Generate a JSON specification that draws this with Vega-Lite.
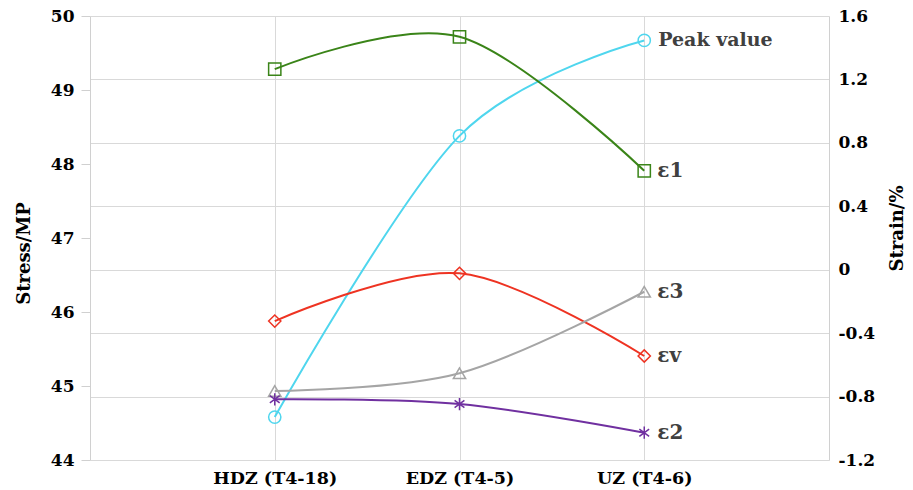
{
  "$schema": "https://vega.github.io/schema/vega-lite/v6.json",
  "width": 739,
  "height": 444,
  "autosize": {"type": "none"},
  "padding": {"left": 90, "top": 16, "right": 84, "bottom": 30},
  "background": "white",
  "config": {
    "view": {"stroke": null},
    "axis": {
      "labelFont": "DejaVu Serif", "labelFontWeight": "bold", "labelFontSize": 17, "labelColor": "black",
      "titleFont": "DejaVu Serif", "titleFontWeight": "bold", "titleFontSize": 18, "titleColor": "black",
      "gridColor": "#d9d9d9", "domainColor": "#d0d0d0", "tickColor": "#d0d0d0", "gridWidth": 1
    }
  },
  "data": {
    "values": [
      {"zone": "HDZ (T4-18)", "series": "Peak value", "value": 44.58},
      {"zone": "EDZ (T4-5)", "series": "Peak value", "value": 48.38},
      {"zone": "UZ (T4-6)", "series": "Peak value", "value": 49.67},
      {"zone": "HDZ (T4-18)", "series": "ε1", "value": 1.265},
      {"zone": "EDZ (T4-5)", "series": "ε1", "value": 1.469},
      {"zone": "UZ (T4-6)", "series": "ε1", "value": 0.624},
      {"zone": "HDZ (T4-18)", "series": "εv", "value": -0.324},
      {"zone": "EDZ (T4-5)", "series": "εv", "value": -0.023},
      {"zone": "UZ (T4-6)", "series": "εv", "value": -0.544},
      {"zone": "HDZ (T4-18)", "series": "ε3", "value": -0.765},
      {"zone": "EDZ (T4-5)", "series": "ε3", "value": -0.653},
      {"zone": "UZ (T4-6)", "series": "ε3", "value": -0.139},
      {"zone": "HDZ (T4-18)", "series": "ε2", "value": -0.817},
      {"zone": "EDZ (T4-5)", "series": "ε2", "value": -0.847},
      {"zone": "UZ (T4-6)", "series": "ε2", "value": -1.028}
    ]
  },
  "layer": [
    {
      "transform": [{"filter": "datum.series === 'Peak value'"}],
      "encoding": {
        "x": {
          "field": "zone", "type": "ordinal",
          "scale": {"type": "point", "domain": ["", "HDZ (T4-18)", "EDZ (T4-5)", "UZ (T4-6)", " "], "padding": 0},
          "axis": {"values": ["HDZ (T4-18)", "EDZ (T4-5)", "UZ (T4-6)"], "title": null, "labelAngle": 0, "ticks": false, "domain": false, "grid": true, "labelPadding": 9, "labelFontSize": 17.5}
        },
        "y": {
          "field": "value", "type": "quantitative",
          "scale": {"domain": [44, 50], "nice": false, "zero": false},
          "axis": {"orient": "left", "title": "Stress/MP", "values": [44, 45, 46, 47, 48, 49, 50], "format": "d", "grid": false, "tickSize": 9, "labelPadding": 7, "titlePadding": 17, "titleY": 237}
        }
      },
      "layer": [
        {
          "mark": {"type": "line", "interpolate": "cardinal", "strokeWidth": 2},
          "encoding": {
            "color": {"field": "series", "type": "nominal", "legend": null,
              "scale": {"domain": ["Peak value", "ε1", "εv", "ε3", "ε2"], "range": ["#4FD6EE", "#3A8418", "#EE3322", "#A5A5A5", "#7030A0"]}},
            "order": {"value": null}
          }
        },
        {
          "mark": {"type": "point", "filled": false, "strokeWidth": 1.5, "size": 150, "opacity": 1},
          "encoding": {
            "color": {"field": "series", "type": "nominal", "legend": null},
            "shape": {"field": "series", "type": "nominal", "legend": null,
              "scale": {"domain": ["Peak value", "ε1", "εv", "ε3", "ε2"], "range": ["circle", "square", "diamond", "triangle-up", "M0,-1L0,1M-0.8,-0.6L0.8,0.6M-0.8,0.6L0.8,-0.6"]}}
          }
        },
        {
          "transform": [{"filter": "datum.zone === 'UZ (T4-6)'"}],
          "mark": {"type": "text", "align": "left", "baseline": "middle", "dx": 14, "font": "DejaVu Serif", "fontWeight": "bold", "fontSize": 19, "color": "#404040"},
          "encoding": {"text": {"field": "series"}}
        }
      ]
    },
    {
      "transform": [{"filter": "datum.series !== 'Peak value'"}],
      "encoding": {
        "x": {
          "field": "zone", "type": "ordinal",
          "scale": {"type": "point", "domain": ["", "HDZ (T4-18)", "EDZ (T4-5)", "UZ (T4-6)", " "], "padding": 0}
        },
        "y": {
          "field": "value", "type": "quantitative",
          "scale": {"domain": [-1.2, 1.6], "nice": false, "zero": false},
          "axis": {"orient": "right", "title": "Strain/%", "values": [-1.2, -0.8, -0.4, 0, 0.4, 0.8, 1.2, 1.6], "labelExpr": "replace(format(datum.value, '.1~f'), '\u2212', '-')", "grid": true, "ticks": false, "labelPadding": 9, "titlePadding": 32, "titleAngle": 270, "titleY": 212}
        }
      },
      "layer": [
        {
          "mark": {"type": "line", "interpolate": "cardinal", "strokeWidth": 2},
          "encoding": {
            "color": {"field": "series", "type": "nominal", "legend": null},
            "order": {"value": null}
          }
        },
        {
          "mark": {"type": "point", "filled": false, "strokeWidth": 1.5, "size": 150, "opacity": 1},
          "encoding": {
            "color": {"field": "series", "type": "nominal", "legend": null},
            "shape": {"field": "series", "type": "nominal", "legend": null}
          }
        },
        {
          "transform": [{"filter": "datum.zone === 'UZ (T4-6)'"}],
          "mark": {"type": "text", "align": "left", "baseline": "middle", "dx": 13, "font": "DejaVu Serif", "fontWeight": "bold", "fontSize": 20, "color": "#404040"},
          "encoding": {"text": {"field": "series"}}
        }
      ]
    }
  ],
  "resolve": {"scale": {"y": "independent"}}
}
